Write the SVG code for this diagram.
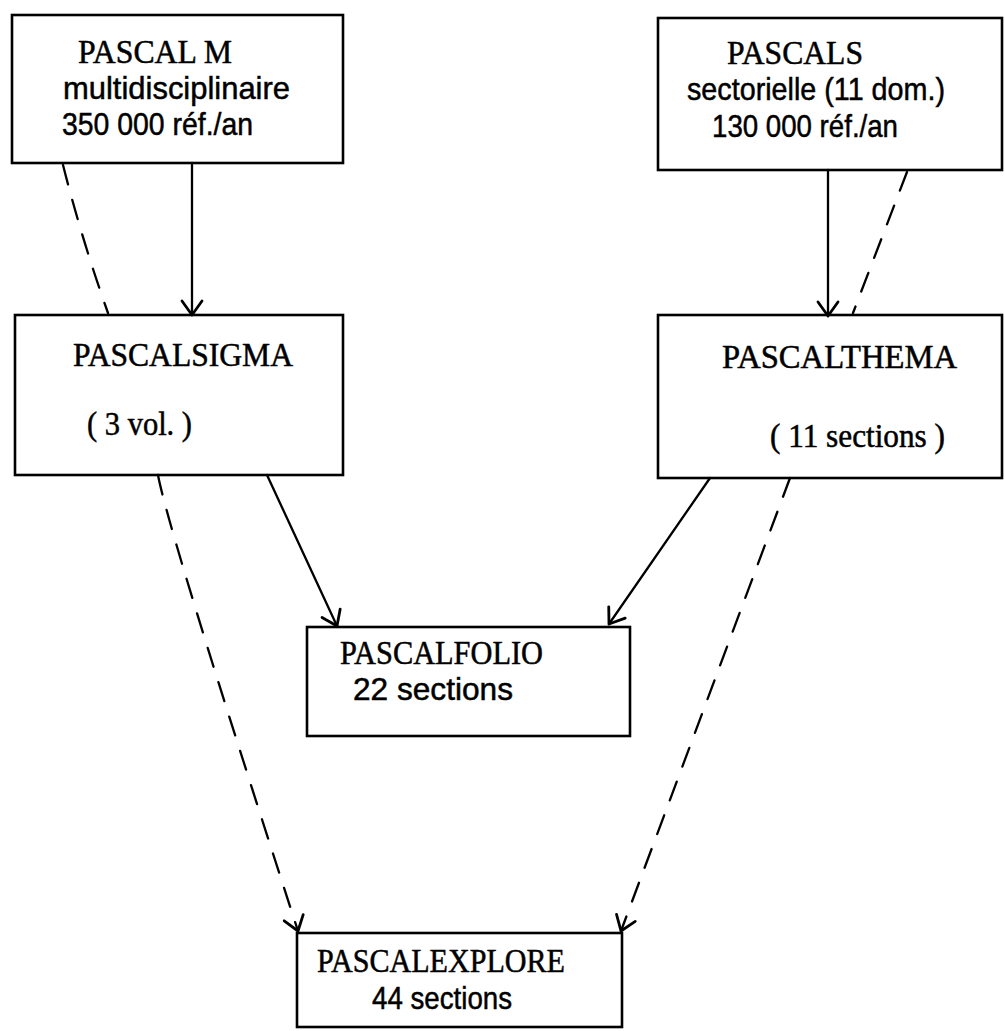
<svg xmlns="http://www.w3.org/2000/svg" width="1005" height="1031" viewBox="0 0 1005 1031">
<defs>
<style>
.box{fill:none;stroke:#000;stroke-width:2.6;stroke-linejoin:miter}
.t{font-family:"Liberation Serif","DejaVu Serif",serif;font-size:33px;fill:#000;stroke:#000;stroke-width:0.5}
.s{font-family:"Liberation Sans","DejaVu Sans",sans-serif;font-size:32px;fill:#000;stroke:#000;stroke-width:0.5}
.p{font-family:"Liberation Serif","DejaVu Serif",serif;font-size:33px;fill:#000;stroke:#000;stroke-width:0.5}
.c{fill:none;stroke:#000;stroke-width:2.3;stroke-linecap:round}
.d{stroke-dasharray:20 16}
</style>
<marker id="v" viewBox="-18 -18 36 36" refX="0" refY="0" markerWidth="36" markerHeight="36" markerUnits="userSpaceOnUse" orient="auto">
<path d="M-14,-10 L0,0 L-14,10" fill="none" stroke="#000" stroke-width="2.8" stroke-linecap="round" stroke-linejoin="round"/>
</marker>
</defs>
<rect width="1005" height="1031" fill="#fff"/>
<g id="connectors">
<path class="c" d="M192,163 L192,315" marker-end="url(#v)"/>
<path class="c d" d="M63,165 Q82,240 108,313"/>
<path class="c" d="M828,170 L828,316" marker-end="url(#v)"/>
<path class="c d" d="M907,172 L853,313"/>
<path class="c" d="M267,475 L337,626" marker-end="url(#v)"/>
<path class="c" d="M710,478 L609,624" marker-end="url(#v)"/>
<path class="c d" d="M158,475 Q168,530 298,931" marker-end="url(#v)"/>
<path class="c d" d="M790,478 L621,931" marker-end="url(#v)"/>
</g>
<g id="pascal-m">
<rect class="box" x="12" y="15" width="331" height="148"/>
<text class="t" x="78" y="63" textLength="154" lengthAdjust="spacingAndGlyphs">PASCAL M</text>
<text class="s" x="63" y="99" textLength="227" lengthAdjust="spacingAndGlyphs">multidisciplinaire</text>
<text class="s" x="62" y="135" textLength="191" lengthAdjust="spacingAndGlyphs">350 000 réf./an</text>
</g>
<g id="pascal-s">
<rect class="box" x="658" y="18" width="344" height="152"/>
<text class="t" x="727" y="64" textLength="136" lengthAdjust="spacingAndGlyphs">PASCALS</text>
<text class="s" x="687" y="100" textLength="258" lengthAdjust="spacingAndGlyphs">sectorielle (11 dom.)</text>
<text class="s" x="712" y="137" textLength="186" lengthAdjust="spacingAndGlyphs">130 000 réf./an</text>
</g>
<g id="pascal-sigma">
<rect class="box" x="15" y="315" width="328" height="160"/>
<text class="t" x="73" y="366" textLength="220" lengthAdjust="spacingAndGlyphs">PASCALSIGMA</text>
<text class="p" x="87" y="435" textLength="105" lengthAdjust="spacingAndGlyphs">( 3 vol. )</text>
</g>
<g id="pascal-thema">
<rect class="box" x="658" y="315" width="344" height="163"/>
<text class="t" x="722" y="368" textLength="235" lengthAdjust="spacingAndGlyphs">PASCALTHEMA</text>
<text class="p" x="770" y="447" textLength="175" lengthAdjust="spacingAndGlyphs">( 11 sections )</text>
</g>
<g id="pascal-folio">
<rect class="box" x="307" y="627" width="323" height="109"/>
<text class="t" x="340" y="664" textLength="203" lengthAdjust="spacingAndGlyphs">PASCALFOLIO</text>
<text class="s" x="353" y="700" textLength="160" lengthAdjust="spacingAndGlyphs">22 sections</text>
</g>
<g id="pascal-explore">
<rect class="box" x="297" y="933" width="325" height="94"/>
<text class="t" x="317" y="972" textLength="248" lengthAdjust="spacingAndGlyphs">PASCALEXPLORE</text>
<text class="s" x="372" y="1009" textLength="140" lengthAdjust="spacingAndGlyphs">44 sections</text>
</g>
</svg>
